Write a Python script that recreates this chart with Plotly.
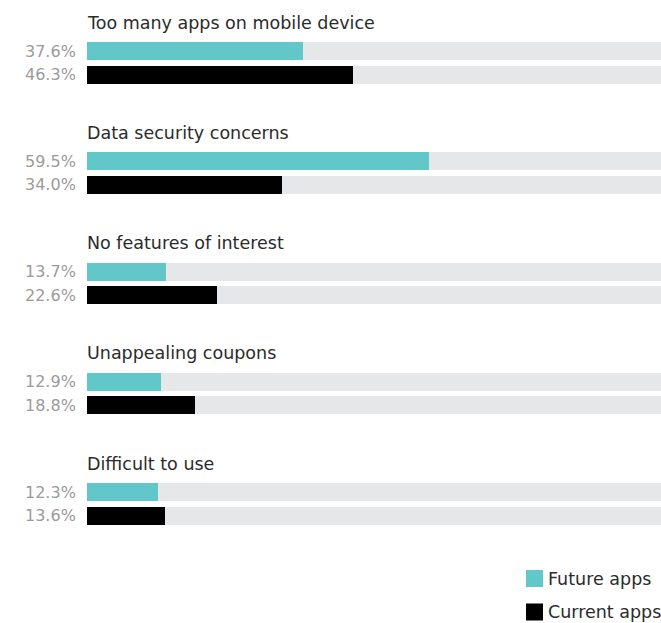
import plotly.graph_objects as go

# Reasons for not using retailer apps, share of respondents (%)
categories = [
    "Too many apps on mobile device",
    "Data security concerns",
    "No features of interest",
    "Unappealing coupons",
    "Difficult to use",
]
future_apps = [37.6, 59.5, 13.7, 12.9, 12.3]
current_apps = [46.3, 34.0, 22.6, 18.8, 13.6]
series_names = ["Future apps", "Current apps"]

TEAL = "#62C7C9"
BLACK = "#000000"
TRACK = "#E6E7E8"
LABEL_GRAY = "#9B9B9B"
TITLE_GRAY = "#2B2B2B"
FONT = "DejaVu Sans"

W, H = 661, 623
LEFT = 87
PITCH = 110.3      # vertical distance between groups (px)
FIRST = 51         # centre of first teal bar (px from top)
GAP = 23.5         # distance between teal and black bar centres
BAR_H = 18

teal_y = [FIRST + i * PITCH for i in range(len(categories))]
black_y = [y + GAP for y in teal_y]

fig = go.Figure()

# grey tracks behind every bar
fig.add_trace(go.Bar(
    x=[100] * (2 * len(categories)),
    y=teal_y + black_y,
    orientation="h", width=BAR_H,
    marker=dict(color=TRACK, line=dict(width=0)),
    showlegend=False, hoverinfo="skip",
))
fig.add_trace(go.Bar(
    x=future_apps, y=teal_y, orientation="h", width=BAR_H,
    marker=dict(color=TEAL, line=dict(width=0)),
    name=series_names[0], showlegend=False,
))
fig.add_trace(go.Bar(
    x=current_apps, y=black_y, orientation="h", width=BAR_H,
    marker=dict(color=BLACK, line=dict(width=0)),
    name=series_names[1], showlegend=False,
))

annotations = []
for i, cat in enumerate(categories):
    annotations.append(dict(
        x=0, y=teal_y[i] - 28.5, xref="x", yref="y", xshift=-2,
        text=cat, showarrow=False, xanchor="left", yanchor="middle",
        font=dict(family=FONT, size=17.5, color=TITLE_GRAY),
    ))
    for yv, val in ((teal_y[i], future_apps[i]), (black_y[i], current_apps[i])):
        annotations.append(dict(
            x=0, y=yv, xref="x", yref="y", xshift=-9,
            text=f"{val:.1f}%", showarrow=False,
            xanchor="right", yanchor="middle",
            font=dict(family=FONT, size=16, color=LABEL_GRAY),
        ))

# legend drawn as swatches with labels
shapes = []
legend_rows = [(TEAL, series_names[0], 578.5), (BLACK, series_names[1], 612)]
for color, name, cy in legend_rows:
    shapes.append(dict(
        type="rect", xref="paper", yref="paper",
        x0=(526 - LEFT) / (W - LEFT), x1=(543 - LEFT) / (W - LEFT),
        y0=1 - (cy + 8.5) / H, y1=1 - (cy - 8.5) / H,
        fillcolor=color, line=dict(width=0),
    ))
    annotations.append(dict(
        x=(548 - LEFT) / (W - LEFT), y=1 - cy / H, xref="paper", yref="paper",
        xshift=-2,
        text=name, showarrow=False, xanchor="left", yanchor="middle",
        font=dict(family=FONT, size=17.5, color=TITLE_GRAY),
    ))

fig.update_layout(
    width=W, height=H,
    margin=dict(l=LEFT, r=0, t=0, b=0),
    paper_bgcolor="white", plot_bgcolor="white",
    barmode="overlay", bargap=0,
    xaxis=dict(range=[0, 100], visible=False, fixedrange=True),
    yaxis=dict(range=[H, 0], visible=False, fixedrange=True),
    annotations=annotations, shapes=shapes,
    showlegend=False,
)

fig.write_html("out.html")
